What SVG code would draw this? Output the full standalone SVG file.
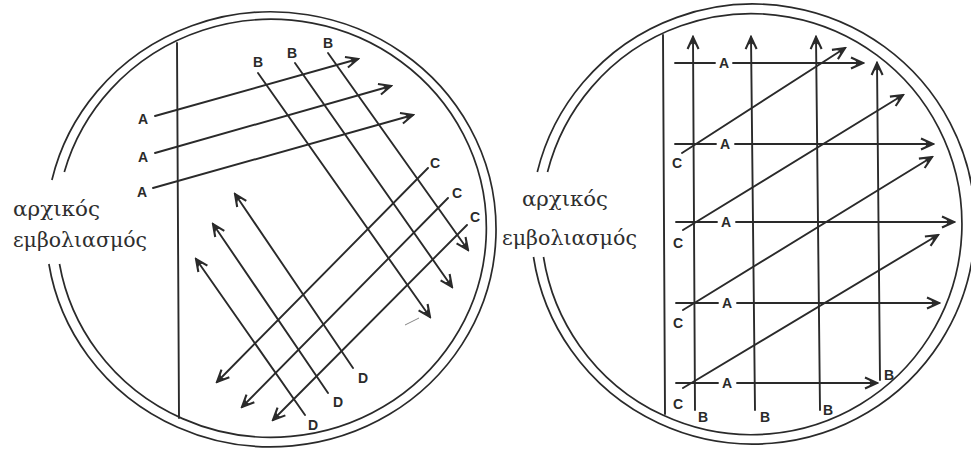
<svg xmlns="http://www.w3.org/2000/svg" width="971" height="454" viewBox="0 0 971 454">
<style>
.dish{fill:none;stroke:#2a2a2a;stroke-width:1.7}
.ln{fill:none;stroke:#2a2a2a;stroke-width:1.9;stroke-linecap:round}
.arr{marker-end:url(#ah)}
.lbl{font-family:"Liberation Sans",Arial,sans-serif;font-weight:bold;font-size:14px;fill:#2a2a2a;text-anchor:middle;dominant-baseline:central}
.cap{font-family:"DejaVu Serif","Liberation Serif",serif;font-size:21px;fill:#2e2e2e}
</style>
<defs>
<marker id="ah" viewBox="-14 -8 16 16" refX="0" refY="0" markerWidth="16" markerHeight="16" markerUnits="userSpaceOnUse" orient="auto">
<path d="M-12,-5.5 L0,0 L-12,5.5" fill="none" stroke="#2a2a2a" stroke-width="2.1" stroke-linejoin="miter"/>
<path d="M0,0 L-8,-2.8 L-6,0 L-8,2.8 z" fill="#2a2a2a"/>
</marker>
</defs>
<rect width="971" height="454" fill="#ffffff"/>

<g id="dish-left">
<path class="dish" d="M51.9,180 A225,217.5 0 1 1 48.9,264"/>
<path class="dish" d="M64.3,172 A215,209 0 1 1 59.5,264"/>
<line class="ln" x1="177" y1="43" x2="179" y2="418"/>
<text class="cap" x="13" y="216" textLength="87" lengthAdjust="spacingAndGlyphs">αρχικός</text>
<text class="cap" x="13" y="247" textLength="134" lengthAdjust="spacingAndGlyphs">εμβολιασμός</text>
</g>

<g id="dish-right">
<path class="dish" d="M537.3,172 A222,220 0 1 1 533.5,257"/>
<path class="dish" d="M547.5,172 A210.5,210.5 0 1 1 543.5,257"/>
<line class="ln" x1="663" y1="35" x2="665" y2="414"/>
<text class="cap" x="522" y="206" textLength="86" lengthAdjust="spacingAndGlyphs">αρχικός</text>
<text class="cap" x="502" y="245" textLength="135" lengthAdjust="spacingAndGlyphs">εμβολιασμός</text>
</g>

<g id="connectors">
<line class="ln arr" x1="155" y1="116" x2="358" y2="59"/>
<line class="ln arr" x1="155" y1="153" x2="391" y2="86"/>
<line class="ln arr" x1="153" y1="188" x2="413" y2="115"/>
<line class="ln arr" x1="258" y1="73" x2="430" y2="317"/>
<line class="ln arr" x1="295" y1="63" x2="452" y2="287"/>
<line class="ln arr" x1="328" y1="53" x2="468" y2="250"/>
<line class="ln arr" x1="428" y1="168" x2="217" y2="382"/>
<line class="ln arr" x1="448" y1="198" x2="242" y2="407"/>
<line class="ln arr" x1="467" y1="225" x2="273" y2="420"/>
<line class="ln arr" x1="353" y1="368" x2="235" y2="194"/>
<line class="ln arr" x1="328" y1="393" x2="213" y2="224"/>
<line class="ln arr" x1="305" y1="415" x2="196" y2="259"/>
<line x1="405" y1="325" x2="419" y2="318" stroke="#666" stroke-width="0.8"/>

<line class="ln arr" x1="695" y1="410" x2="693" y2="37"/>
<line class="ln arr" x1="755" y1="410" x2="751" y2="37"/>
<line class="ln arr" x1="820" y1="410" x2="816" y2="37"/>
<line class="ln arr" x1="880" y1="380" x2="877" y2="63"/>
<line class="ln" x1="675" y1="63" x2="715" y2="63"/>
<line class="ln arr" x1="733" y1="63" x2="863" y2="63"/>
<line class="ln" x1="675" y1="144" x2="716" y2="144"/>
<line class="ln arr" x1="735" y1="144" x2="933" y2="144"/>
<line class="ln" x1="676" y1="222" x2="717" y2="222"/>
<line class="ln arr" x1="736" y1="222" x2="954" y2="222"/>
<line class="ln" x1="676" y1="303" x2="718" y2="303"/>
<line class="ln arr" x1="737" y1="303" x2="939" y2="303"/>
<line class="ln" x1="676" y1="383" x2="718" y2="383"/>
<line class="ln arr" x1="737" y1="383" x2="877" y2="383"/>
<line class="ln arr" x1="682" y1="153" x2="845" y2="48"/>
<line class="ln arr" x1="683" y1="230" x2="903" y2="95"/>
<line class="ln arr" x1="683" y1="310" x2="932" y2="157"/>
<line class="ln arr" x1="683" y1="388" x2="938" y2="235"/>
</g>

<g id="labels-left">
<text class="lbl" x="143" y="119">A</text>
<text class="lbl" x="143" y="157">A</text>
<text class="lbl" x="142" y="192">A</text>
<text class="lbl" x="258" y="62">B</text>
<text class="lbl" x="292" y="53">B</text>
<text class="lbl" x="328" y="43">B</text>
<text class="lbl" x="435" y="163">C</text>
<text class="lbl" x="457" y="193">C</text>
<text class="lbl" x="475" y="217">C</text>
<text class="lbl" x="363" y="378">D</text>
<text class="lbl" x="338" y="402">D</text>
<text class="lbl" x="313" y="425">D</text>
</g>

<g id="labels-right">
<text class="lbl" x="724" y="63">A</text>
<text class="lbl" x="725" y="144">A</text>
<text class="lbl" x="726" y="222">A</text>
<text class="lbl" x="727" y="303">A</text>
<text class="lbl" x="727" y="383">A</text>
<text class="lbl" x="677" y="163">C</text>
<text class="lbl" x="678" y="243">C</text>
<text class="lbl" x="678" y="323">C</text>
<text class="lbl" x="678" y="404">C</text>
<text class="lbl" x="703" y="417">B</text>
<text class="lbl" x="765" y="417">B</text>
<text class="lbl" x="828" y="410">B</text>
<text class="lbl" x="889" y="375">B</text>
</g>
</svg>
